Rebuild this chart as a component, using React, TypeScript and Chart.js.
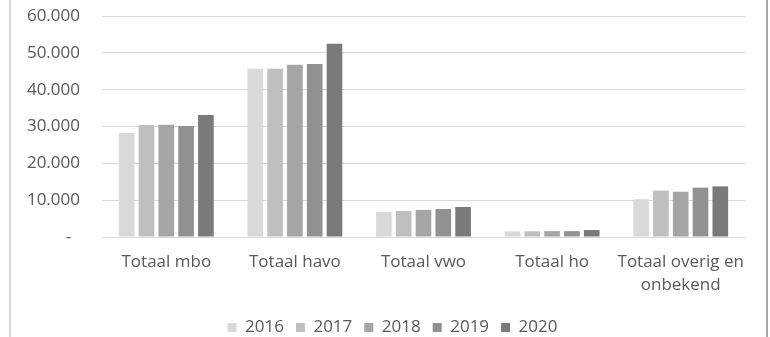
import React, { useEffect, useRef } from "react";
import { Chart, registerables } from "chart.js";

Chart.register(...registerables);

const categories: (string | string[])[] = [
  "Totaal mbo",
  "Totaal havo",
  "Totaal vwo",
  "Totaal ho",
  ["Totaal overig en", "onbekend"],
];
const seriesLabels = ["2016", "2017", "2018", "2019", "2020"];
const values2016 = [28250, 45650, 6800, 1550, 10250];
const values2017 = [30400, 45650, 7050, 1550, 12600];
const values2018 = [30450, 46750, 7350, 1600, 12300];
const values2019 = [30150, 47000, 7600, 1600, 13400];
const values2020 = [33150, 52500, 8150, 1900, 13750];
const seriesColors = ["#d9d9d9", "#bfbfbf", "#a5a5a5", "#919191", "#7a7a7a"];
const yMax = 60000;
const yStep = 10000;

const fmt = (v: number) =>
  v === 0 ? "-  " : String(Math.round(v)).replace(/\B(?=(\d{3})+(?!\d))/g, ".");

const FONT = "'Open Sans', sans-serif";
const TEXT = "#595959";

const frame = {
  id: "frame",
  beforeDraw(chart: any) {
    const lg = chart.legend;
    if (lg && !lg._shifted) {
      lg.left += 20;
      lg.right += 20;
      lg._shifted = true;
    }
  },
  afterDraw(chart: any) {
    const { ctx } = chart;
    ctx.save();
    ctx.fillStyle = "#d9d9d9";
    ctx.fillRect(9, 0, 2, chart.height);
    ctx.fillStyle = "#a6a6a6";
    ctx.fillRect(766, 0, 2, chart.height);
    ctx.restore();
  },
};

export default function App() {
  const ref = useRef<HTMLCanvasElement>(null);
  useEffect(() => {
    const all = [values2016, values2017, values2018, values2019, values2020];
    const chart = new Chart(ref.current!, {
      type: "bar",
      data: {
        labels: categories,
        datasets: seriesLabels.map((l, i) => ({
          label: l,
          data: all[i],
          backgroundColor: seriesColors[i],
          borderWidth: 0,
          categoryPercentage: 0.77,
          barPercentage: 0.79,
        })),
      },
      options: {
        animation: false,
        responsive: false,
        maintainAspectRatio: false,
        layout: { padding: { top: 16, right: 25, left: 0, bottom: 0 } },
        plugins: {
          tooltip: { enabled: false },
          legend: {
            position: "bottom",
            maxHeight: 30,
            labels: {
              boxWidth: 9,
              boxHeight: 9,
              padding: 12,
              color: TEXT,
              font: { family: FONT, size: 17 },
            },
          },
        },
        scales: {
          x: {
            grid: { display: false, drawTicks: false },
            border: { display: false },
            ticks: {
              color: TEXT,
              font: { family: FONT, size: 17, lineHeight: 1.35 },
              padding: 14,
              maxRotation: 0,
              autoSkip: false,
            },
            afterFit(s: any) {
              s.height = 70;
            },
          },
          y: {
            min: 0,
            max: yMax,
            grid: { color: "#d9d9d9", lineWidth: 1, drawTicks: false },
            border: { display: false },
            ticks: {
              stepSize: yStep,
              color: TEXT,
              font: { family: FONT, size: 17 },
              padding: 22,
              callback: (v: any) => fmt(Number(v)),
            },
            afterFit(s: any) {
              s.width = 102;
              s.paddingTop = 0;
              s.paddingBottom = 0;
            },
          },
        },
      },
      plugins: [frame],
    });
    return () => chart.destroy();
  }, []);
  return (
    <div style={{ position: "fixed", left: 0, top: 0, width: 770, height: 337, background: "#fff" }}>
      <canvas ref={ref} width={770} height={337} style={{ width: 770, height: 337, display: "block" }} />
    </div>
  );
}
